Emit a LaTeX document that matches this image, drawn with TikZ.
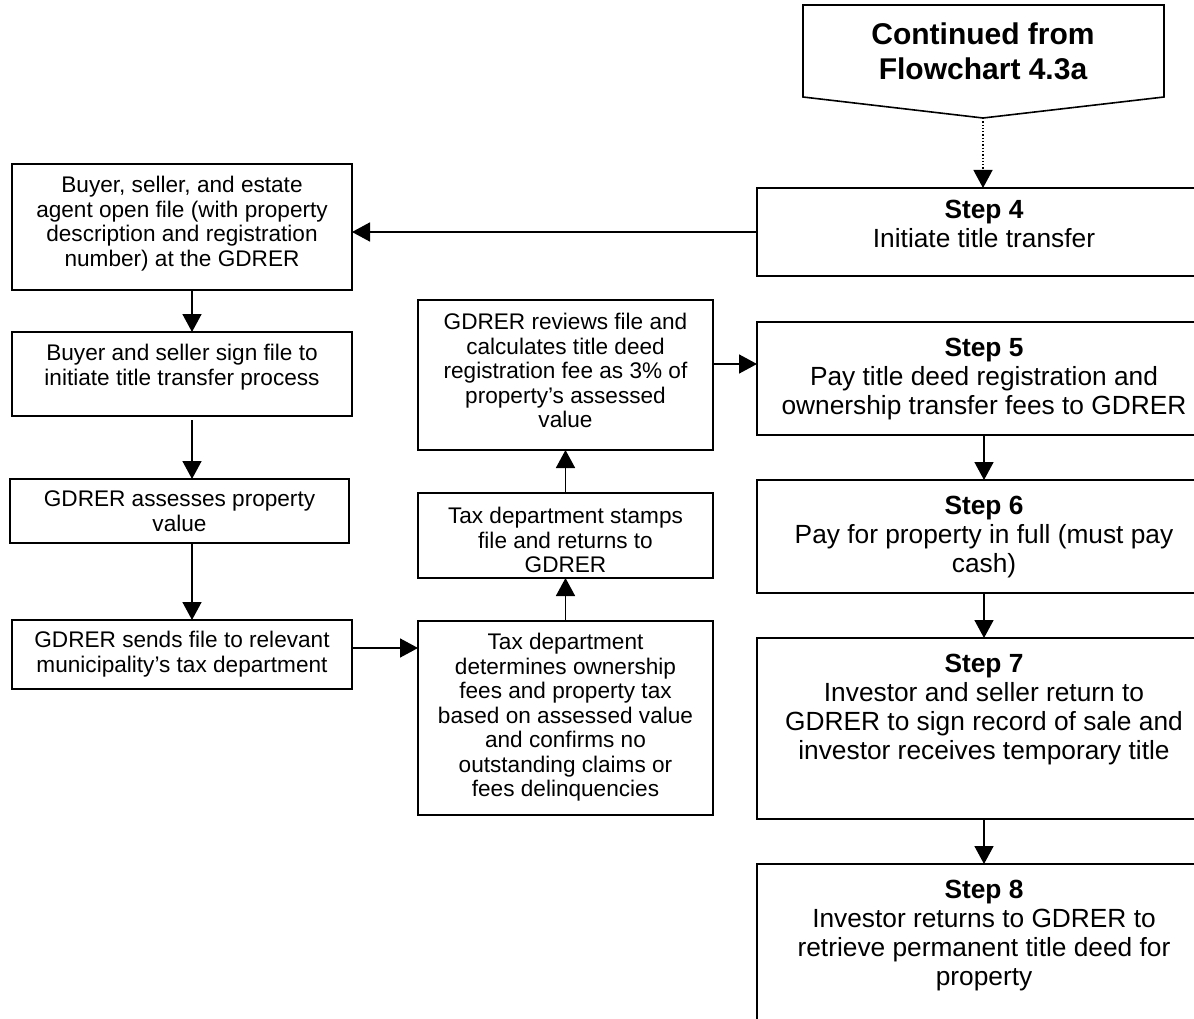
\documentclass[tikz,border=0pt]{standalone}
\usepackage{fontspec}
\setmainfont{Liberation Sans}
\usetikzlibrary{arrows.meta}

\tikzset{
  box/.style={draw, line width=1.6pt, anchor=north west, inner sep=0pt, outer sep=0pt},
  smalltxt/.style={anchor=north, inner sep=0pt, align=center,
    font=\fontsize{22.6}{24.5}\selectfont},
  bigtxt/.style={anchor=north, inner sep=0pt, align=center,
    font=\fontsize{26.3}{29}\selectfont},
  headtxt/.style={inner sep=0pt, align=center,
    font=\fontsize{30}{35}\selectfont\bfseries},
  arr/.style={line width=1.6pt, -{Triangle[length=18pt,width=19pt]}},
  dotarr/.style={line width=1.3pt, dotted, -{Triangle[length=18pt,width=19pt]}},
}

\begin{document}
\begin{tikzpicture}[x=1pt,y=-1pt]
\useasboundingbox (0,0) rectangle (1194,1019);
\clip (0,0) rectangle (1194,1019);

% off-page connector at the top
\coordinate (p1) at (803,5);
\coordinate (p2) at (1164,5);
\coordinate (p3) at (1164,97);
\coordinate (ptip) at (983,118);
\coordinate (p5) at (803,97);
\draw[line width=1.6pt, line join=miter] (p1) -- (p2) -- (p3) -- (ptip) -- (p5) -- cycle;
\node[headtxt] (cont) at (983,51) {Continued from\\Flowchart 4.3a};

% main steps, right column
\node[box, minimum width=454pt, minimum height=88pt]  (S4) at (757,188) {};
\node[box, minimum width=454pt, minimum height=113pt] (S5) at (757,322) {};
\node[box, minimum width=454pt, minimum height=113pt] (S6) at (757,480) {};
\node[box, minimum width=454pt, minimum height=181pt] (S7) at (757,638) {};
\node[box, minimum width=454pt, minimum height=180pt] (S8) at (757,864) {};

\node[bigtxt, yshift=-12pt] (S4t) at (S4.north) {\textbf{Step 4}\\Initiate title transfer};
\node[bigtxt, yshift=-16pt] (S5t) at (S5.north) {\textbf{Step 5}\\Pay title deed registration and\\ownership transfer fees to GDRER};
\node[bigtxt, yshift=-16pt] (S6t) at (S6.north) {\textbf{Step 6}\\Pay for property in full (must pay\\cash)};
\node[bigtxt, yshift=-16pt] (S7t) at (S7.north) {\textbf{Step 7}\\Investor and seller return to\\GDRER to sign record of sale and\\investor receives temporary title};
\node[bigtxt, yshift=-16pt] (S8t) at (S8.north) {\textbf{Step 8}\\Investor returns to GDRER to\\retrieve permanent title deed for\\property};

% sub-steps, left column
\node[box, minimum width=340pt, minimum height=126pt] (A) at (12,164) {};
\node[box, minimum width=340pt, minimum height=84pt]  (B) at (12,332) {};
\node[box, minimum width=339pt, minimum height=64pt]  (C) at (10,479) {};
\node[box, minimum width=340pt, minimum height=69pt]  (D) at (12,620) {};

\node[smalltxt, yshift=-12pt] (At) at (A.north) {Buyer, seller, and estate\\agent open file (with property\\description and registration\\number) at the GDRER};
\node[smalltxt, yshift=-12pt] (Bt) at (B.north) {Buyer and seller sign file to\\initiate title transfer process};
\node[smalltxt, yshift=-12pt] (Ct) at (C.north) {GDRER assesses property\\value};
\node[smalltxt, yshift=-11pt] (Dt) at (D.north) {GDRER sends file to relevant\\municipality’s tax department};

% sub-steps, middle column
\node[box, minimum width=295pt, minimum height=150pt] (F) at (418,300) {};
\node[box, minimum width=295pt, minimum height=85pt]  (G) at (418,493) {};
\node[box, minimum width=295pt, minimum height=194pt] (E) at (418,621) {};

\node[smalltxt, yshift=-13pt] (Ft) at (F.north) {GDRER reviews file and\\calculates title deed\\registration fee as 3\% of\\property’s assessed\\value};
% the last line runs past the text area and is cut off
\begin{scope}
  \clip (G.north west) rectangle ([yshift=6pt]G.south east);
  \node[smalltxt, yshift=-14pt] (Gt) at (G.north) {Tax department stamps\\file and returns to\\GDRER};
\end{scope}
\node[smalltxt, yshift=-12pt] (Et) at (E.north) {Tax department\\determines ownership\\fees and property tax\\based on assessed value\\and confirms no\\outstanding claims or\\fees delinquencies};

% connectors
\coordinate (lx) at (192,0);
\coordinate (ly1) at (0,232);
\coordinate (ly2) at (0,648);
\coordinate (ly3) at (0,364);

\draw[dotarr] (ptip) -- (S4.north -| ptip);
\draw[arr] (S4.west |- ly1) -- (A.east |- ly1);
\draw[arr] (A.south -| lx) -- (B.north -| lx);
\draw[arr] ([yshift=-4pt]B.south -| lx) -- (C.north -| lx);
\draw[arr] (C.south -| lx) -- (D.north -| lx);
\draw[arr] (D.east |- ly2) -- (E.west |- ly2);
\draw[arr] (E.north) -- (G.south);
\draw[arr] (G.north) -- (F.south);
\draw[arr] (F.east |- ly3) -- (S5.west |- ly3);
\draw[arr] (S5.south) -- (S6.north);
\draw[arr] (S6.south) -- (S7.north);
\draw[arr] (S7.south) -- (S8.north);
\end{tikzpicture}
\end{document}
